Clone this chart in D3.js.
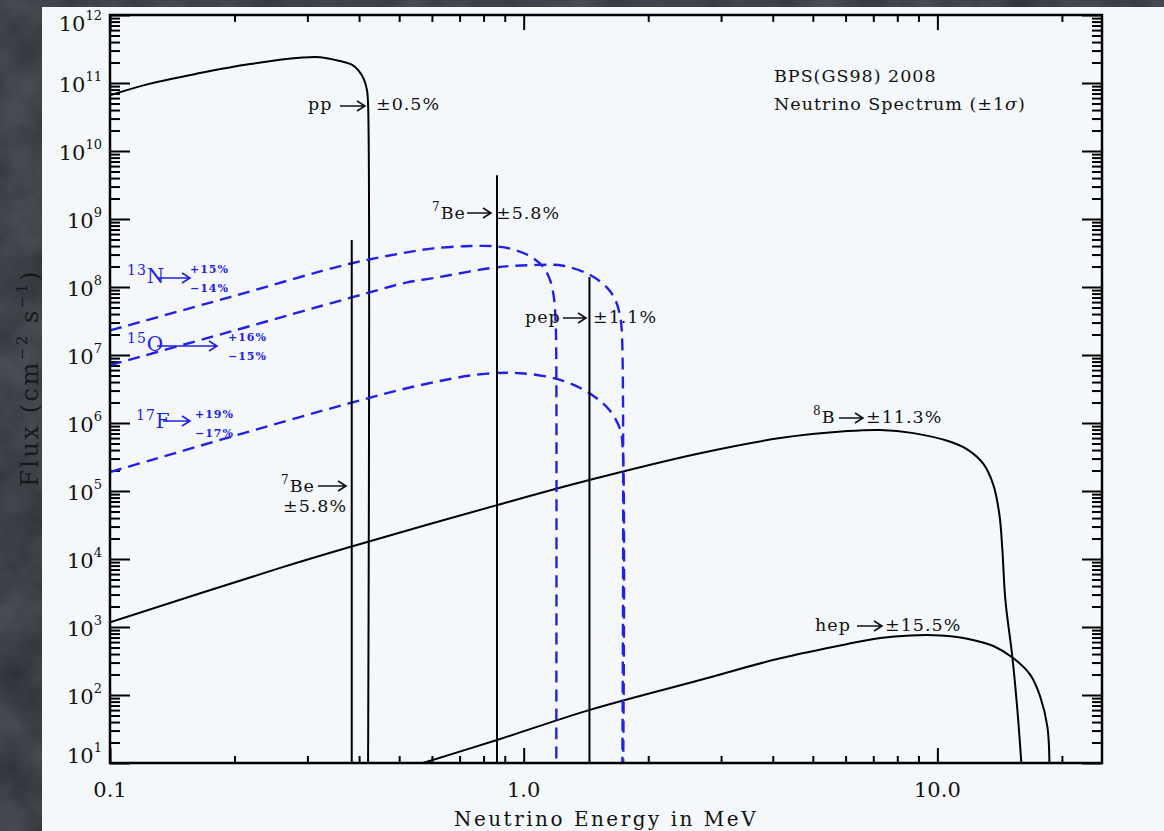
<!DOCTYPE html>
<html>
<head>
<meta charset="utf-8">
<script src="https://cdn.jsdelivr.net/npm/d3@7"></script>
<style>
  body { margin: 0; background: #3c3f47; overflow: hidden; }
  svg { display: block; }
  text { font-family: "DejaVu Serif", serif; }
</style>
</head>
<body>
<div id="chart"></div>
<script>
// ---- data (energy in MeV, flux in cm^-2 s^-1 [MeV^-1]) ----
var ppEnergy = [0.1, 0.125, 0.165, 0.218, 0.288, 0.322, 0.36, 0.385, 0.398, 0.41, 0.418, 0.4205, 0.4206];
var ppFlux   = [6.6e10, 9.8e10, 1.4e11, 1.9e11, 2.35e11, 2.4e11, 2.1e11, 1.85e11, 1.55e11, 1.17e11, 7.9e10, 5e10, 10];

var b8Energy = [0.1, 0.258, 0.38, 0.862, 1.44, 2.67, 4.17, 6.06, 7.28, 8.75, 10.75, 11.88, 12.92, 13.66, 14.13, 14.36, 14.6, 15.18, 15.61, 15.96];
var b8Flux   = [1.17e3, 7.4e3, 1.5e4, 6.2e4, 1.45e5, 3.6e5, 6.0e5, 7.6e5, 7.9e5, 7.1e5, 5.3e5, 4.0e5, 2.5e5, 1.22e5, 4.4e4, 1.35e4, 2.5e3, 360, 60, 10];

var hepEnergy = [0.571, 0.866, 1.44, 2.67, 4.17, 6.06, 7.28, 8.6, 10.17, 11.88, 13.66, 15.27, 16.79, 17.74, 18.45, 18.66];
var hepFlux   = [10, 22, 60, 166, 347, 562, 689, 750, 750, 667, 525, 347, 196, 93, 34, 10];

var n13Energy = [0.1, 0.195, 0.38, 0.517, 0.604, 0.742, 0.862, 0.954, 1.04, 1.115, 1.16, 1.185, 1.195, 1.1985, 1.199];
var n13Flux   = [2.3e7, 7.1e7, 2.2e8, 3.2e8, 3.7e8, 4.0e8, 3.95e8, 3.5e8, 2.8e8, 1.97e8, 1.23e8, 6.5e7, 2.75e7, 1.17e7, 10];

var o15Energy = [0.1, 0.195, 0.38, 0.517, 0.604, 0.862, 1.054, 1.246, 1.448, 1.592, 1.665, 1.712, 1.730, 1.732];
var o15Flux   = [7.1e6, 2.2e7, 6.9e7, 1.15e8, 1.35e8, 1.95e8, 2.1e8, 2.05e8, 1.5e8, 9.7e7, 6.5e7, 3.6e7, 1.66e7, 10];

var f17Energy = [0.1, 0.127, 0.195, 0.38, 0.562, 0.785, 0.981, 1.225, 1.448, 1.619, 1.712, 1.736, 1.74];
var f17Flux   = [1.9e5, 2.9e5, 6.2e5, 1.96e6, 3.6e6, 5.2e6, 5.4e6, 4.3e6, 2.7e6, 1.5e6, 7.9e5, 4e5, 10];

// line sources (7Be 384 keV, 7Be 862 keV, pep)
var lineEnergy = [0.384, 0.862, 1.442];
var lineFlux   = [4.9e8, 4.4e9, 1.4e8];

var xTickValues = [0.1, 1, 10];
var xTickLabels = ["0.1", "1.0", "10.0"];
var yExponents  = ["1", "2", "3", "4", "5", "6", "7", "8", "9", "10", "11", "12"];

var solarSpectra = [
  {name: "pp",  energy: ppEnergy,  flux: ppFlux,  dashed: false},
  {name: "8B",  energy: b8Energy,  flux: b8Flux,  dashed: false},
  {name: "hep", energy: hepEnergy, flux: hepFlux, dashed: false},
  {name: "13N", energy: n13Energy, flux: n13Flux, dashed: true},
  {name: "15O", energy: o15Energy, flux: o15Flux, dashed: true},
  {name: "17F", energy: f17Energy, flux: f17Flux, dashed: true}
];

// ---- layout ----
var svgWidth = 1164;
var svgHeight = 831;

var margin = {
  top: 15,
  right: 62,
  bottom: 68,
  left: 110
};

var width = svgWidth - margin.left - margin.right;
var height = svgHeight - margin.top - margin.bottom;

var blue = "#2121e6";

var svg = d3.select("#chart")
  .append("svg")
  .attr("width", svgWidth)
  .attr("height", svgHeight);

// stone-ish backdrop
var defs = svg.append("defs");
var noise = defs.append("filter").attr("id", "stone")
  .attr("x", 0).attr("y", 0).attr("width", 1).attr("height", 1)
  .attr("color-interpolation-filters", "sRGB");
noise.append("feTurbulence")
  .attr("type", "fractalNoise")
  .attr("baseFrequency", "0.02")
  .attr("numOctaves", 4)
  .attr("seed", 7);
noise.append("feColorMatrix")
  .attr("type", "matrix")
  .attr("values", "0.16 0 0 0 0.165  0.16 0 0 0 0.175  0.16 0 0 0 0.2  0 0 0 0 1");

defs.append("clipPath").attr("id", "plotClip")
  .append("rect").attr("width", width).attr("height", height);

svg.append("rect")
  .attr("width", svgWidth)
  .attr("height", svgHeight)
  .attr("filter", "url(#stone)");

svg.append("rect")
  .attr("x", 42)
  .attr("y", 7)
  .attr("width", svgWidth - 42)
  .attr("height", svgHeight - 7)
  .attr("fill", "#f5f8fb");

var chartGroup = svg.append("g")
  .attr("transform", `translate(${margin.left}, ${margin.top})`);

var xLogScale = d3.scaleLog()
  .domain([0.1, 25])
  .range([0, width]);

var yLogScale = d3.scaleLog()
  .domain([10, 1e12])
  .range([height, 0]);

// tick positions
var yMajor = yExponents.map(e => Math.pow(10, +e));
var yMinor = [];
yMajor.slice(0, -1).forEach(function(d) {
  for (var k = 2; k <= 9; k++) yMinor.push(d * k);
});
var xMinor = [];
xTickValues.forEach(function(d) {
  for (var k = 2; k <= 9; k++) if (d * k <= 25) xMinor.push(d * k);
});

function drawTicks(axis, values, size, shift) {
  var g = chartGroup.append("g")
    .attr("transform", shift || null)
    .attr("color", "#000")
    .call(axis.tickValues(values).tickSize(size).tickFormat(() => ""));
  g.select(".domain").remove();
  g.selectAll("line").attr("stroke-width", 2);
}

drawTicks(d3.axisLeft(yLogScale), yMajor, -20);
drawTicks(d3.axisLeft(yLogScale), yMinor, -10);
drawTicks(d3.axisRight(yLogScale), yMajor, -20, `translate(${width}, 0)`);
drawTicks(d3.axisRight(yLogScale), yMinor, -10, `translate(${width}, 0)`);
drawTicks(d3.axisBottom(xLogScale), xTickValues, -15, `translate(0, ${height})`);
drawTicks(d3.axisBottom(xLogScale), xMinor, -7, `translate(0, ${height})`);
drawTicks(d3.axisTop(xLogScale), xTickValues, -15);
drawTicks(d3.axisTop(xLogScale), xMinor, -7);

// y tick labels 10^n
yExponents.forEach(function(e, i) {
  var off = i === 0 ? 0 : (i === yExponents.length - 1 ? 16 : 9);
  var t = chartGroup.append("text")
    .attr("x", -8)
    .attr("y", yLogScale(Math.pow(10, +e)) + off)
    .attr("text-anchor", "end")
    .attr("font-size", "21px")
    .attr("fill", "#111");
  t.append("tspan").text("10");
  t.append("tspan").attr("font-size", "13px").attr("dy", -11).text(e);
});

// x tick labels
chartGroup.append("g").selectAll("text")
  .data(xTickValues)
  .enter()
  .append("text")
  .attr("x", d => xLogScale(d))
  .attr("y", height + 34)
  .attr("text-anchor", "middle")
  .attr("font-size", "21px")
  .attr("fill", "#111")
  .text((d, i) => xTickLabels[i]);

// axis titles
chartGroup.append("text")
  .attr("x", 496)
  .attr("y", height + 63)
  .attr("text-anchor", "middle")
  .attr("font-size", "20px")
  .attr("letter-spacing", "2.5px")
  .attr("fill", "#111")
  .text("Neutrino Energy in MeV");

var yTitle = svg.append("text")
  .attr("transform", "translate(38, 378) rotate(-90)")
  .attr("text-anchor", "middle")
  .attr("font-size", "24px")
  .attr("letter-spacing", "2.5px")
  .attr("fill", "#17181c");
yTitle.append("tspan").text("Flux (cm");
yTitle.append("tspan").attr("font-size", "15px").attr("dy", -11).text("−2");
yTitle.append("tspan").attr("dy", 11).text(" s");
yTitle.append("tspan").attr("font-size", "15px").attr("dy", -11).text("−1");
yTitle.append("tspan").attr("dy", 11).text(")");

// spectra
var plot = chartGroup.append("g").attr("clip-path", "url(#plotClip)");

var spectrumLine = d3.line()
  .x(d => xLogScale(d[0]))
  .y(d => yLogScale(d[1]))
  .curve(d3.curveCatmullRom.alpha(0.5));

plot.selectAll(".spectrum")
  .data(solarSpectra)
  .enter()
  .append("path")
  .attr("class", "spectrum")
  .attr("fill", "none")
  .attr("stroke", d => d.dashed ? blue : "#000")
  .attr("stroke-width", d => d.dashed ? 2.4 : 2)
  .attr("stroke-dasharray", d => d.dashed ? "12,7" : null)
  .attr("d", d => spectrumLine(d.energy.map((e, i) => [e, d.flux[i]])));

plot.selectAll(".mono")
  .data(lineEnergy)
  .enter()
  .append("line")
  .attr("class", "mono")
  .attr("x1", d => xLogScale(d))
  .attr("x2", d => xLogScale(d))
  .attr("y1", yLogScale(10))
  .attr("y2", (d, i) => yLogScale(lineFlux[i]))
  .attr("stroke", "#000")
  .attr("stroke-width", 2);

// frame
chartGroup.append("rect")
  .attr("width", width)
  .attr("height", height)
  .attr("fill", "none")
  .attr("stroke", "#000")
  .attr("stroke-width", 2.5);

// ---- annotations (absolute page positions) ----
function arrow(x1, x2, yy, color) {
  svg.append("path")
    .attr("d", `M${x1},${yy}H${x2}M${x2 - 8},${yy - 5}L${x2},${yy}L${x2 - 8},${yy + 5}`)
    .attr("fill", "none")
    .attr("stroke", color)
    .attr("stroke-width", 1.6);
}

function note(xx, yy, sup, main, size, color, weight) {
  var t = svg.append("text")
    .attr("x", xx)
    .attr("y", yy)
    .attr("font-size", size + "px")
    .attr("letter-spacing", "1px")
    .attr("font-weight", weight || null)
    .attr("fill", color);
  if (sup) {
    t.append("tspan").attr("font-size", Math.round(size * 0.68) + "px").attr("dy", -8).text(sup);
    t.append("tspan").attr("dy", 8).text(main);
  } else {
    t.text(main);
  }
}

var blackNotes = [
  {x: 308, y: 110, sup: "",  name: "pp",  a: [340, 365, 106], pct: "±0.5%",  px: 376},
  {x: 432, y: 219, sup: "7", name: "Be",  a: [467, 491, 213], pct: "±5.8%",  px: 496},
  {x: 525, y: 323, sup: "",  name: "pep", a: [563, 586, 318], pct: "±1.1%",  px: 593},
  {x: 813, y: 423, sup: "8", name: "B",   a: [839, 863, 418], pct: "±11.3%", px: 866},
  {x: 815, y: 631, sup: "",  name: "hep", a: [857, 882, 626], pct: "±15.5%", px: 885},
  {x: 281, y: 492, sup: "7", name: "Be",  a: [318, 346, 486], pct: "",       px: 0}
];
blackNotes.forEach(function(n) {
  note(n.x, n.y, n.sup, n.name, 17.5, "#111");
  arrow(n.a[0], n.a[1], n.a[2], "#111");
  if (n.pct) note(n.px, n.y, "", n.pct, 17.5, "#111");
});
note(283, 512, "", "±5.8%", 17.5, "#111");

note(774, 82, "", "BPS(GS98) 2008", 17.5, "#111");
var sigma = svg.append("text")
  .attr("x", 774).attr("y", 110)
  .attr("font-size", "17.5px")
  .attr("letter-spacing", "1px")
  .attr("fill", "#111");
sigma.append("tspan").text("Neutrino Spectrum (±1");
sigma.append("tspan").attr("font-style", "italic").text("σ");
sigma.append("tspan").text(")");

var blueNotes = [
  {x: 127, y: 283, sup: "13", name: "N", a: [157, 190, 278], hi: "+15%", lo: "−14%", px: 190},
  {x: 127, y: 351, sup: "15", name: "O", a: [157, 217, 346], hi: "+16%", lo: "−15%", px: 228},
  {x: 136, y: 428, sup: "17", name: "F", a: [163, 190, 421], hi: "+19%", lo: "−17%", px: 195}
];
blueNotes.forEach(function(n) {
  note(n.x, n.y, n.sup, n.name, 20, blue);
  arrow(n.a[0], n.a[1], n.a[2], blue);
  note(n.px, n.y - 10, "", n.hi, 11, blue, "bold");
  note(n.px, n.y + 9, "", n.lo, 11, blue, "bold");
});
</script>
</body>
</html>
